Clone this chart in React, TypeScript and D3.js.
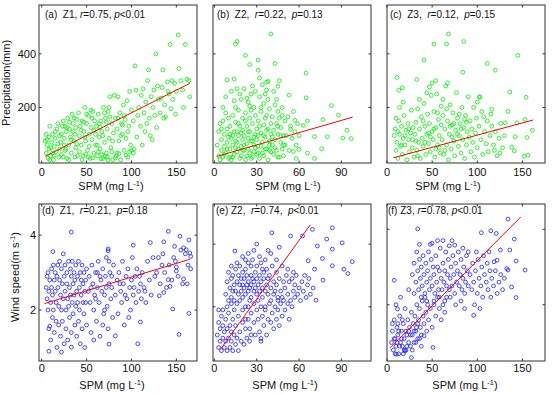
import React from 'react';
import * as d3 from 'd3';

// ---------- data (SPM mg/L, value) ----------
const ptsA: number[][] = [
[4,75],[5,30],[6,60],[7,10],[8,90],[8,45],[9,130],[10,20],[11,70],[12,100],[13,5],[14,55],[15,85],[16,35],[17,120],[18,65],[19,15],[20,95],[6,80],[10,50],[12,30],[15,110],[18,140],[20,45],[5,100],[9,5],
[21,70],[22,25],[23,130],[24,150],[25,85],[26,40],[27,110],[28,10],[29,160],[30,60],[31,120],[32,90],[33,30],[34,175],[35,140],[36,75],[37,100],[38,50],[39,155],[40,20],[22,100],[25,60],[28,125],[30,5],[33,80],[36,160],[38,125],[24,15],[27,45],[31,145],[35,110],[39,65],
[41,180],[42,95],[43,130],[44,60],[45,150],[46,20],[47,110],[48,200],[49,75],[50,140],[51,40],[52,170],[53,100],[54,10],[55,125],[56,80],[57,185],[58,30],[59,150],[60,60],[42,35],[45,5],[48,90],[50,175],[53,55],[56,160],[58,115],[44,115],[47,145],[52,15],[55,190],[60,100],
[61,130],[62,20],[63,175],[64,90],[65,45],[66,150],[67,110],[68,10],[69,200],[70,70],[71,160],[72,30],[73,120],[74,185],[75,85],[76,240],[77,50],[78,140],[79,5],[80,105],[62,60],[65,125],[68,95],[70,180],[73,15],[76,165],[78,35],[64,140],[67,25],[72,145],[75,200],[79,75],
[81,245],[82,160],[83,20],[84,120],[85,240],[86,75],[87,180],[88,5],[89,140],[90,100],[91,210],[92,40],[93,155],[94,85],[95,225],[96,15],[97,130],[98,260],[99,60],[100,190],[84,30],[88,95],[92,170],[96,110],[100,40],[85,160],[90,135],
[102,150],[104,355],[105,265],[106,90],[108,200],[110,130],[111,245],[112,60],[114,180],[115,110],[116,220],[118,300],[119,340],[120,160],[121,95],[122,240],[124,200],[125,265],[126,170],[127,400],[128,125],[130,230],[103,45],[107,170],[113,270],[117,140],[123,80],[129,280],
[132,180],[134,275],[135,340],[137,210],[138,165],[140,295],[142,250],[143,435],[145,300],[146,230],[148,290],[150,260],[152,470],[153,345],[155,300],[158,200],[160,435],[162,305],[164,300],[165,240],[136,160],[141,260],[144,195],[149,175],[157,265],[133,235],
[66,8],[71,18],[74,4],[82,12],[86,28],[94,22],[98,35],[102,30],[63,35],[57,12],[49,25],[37,15],[14,20],[26,130]
];

const ptsB: number[][] = [
[40,474],[16,446],[15,436],[22,394],[31,377],[25,360],[43,364],[31,339],[65,328],[9,303],[14,306],[38,297],[37,294],[45,279],[65,236],[53,246],[83,207],[88,171],[94,115],[91,86],[97,84],[71,91],[80,91],[76,46],[71,10],[66,30],[60,44],[56,36],[58,10],[77,155],[66,149],[63,133],[57,152],[54,119],
[2,60],[3,20],[3,110],[4,5],[5,80],[5,40],[6,150],[6,15],[7,100],[7,55],[8,30],[8,180],[9,70],[9,120],[10,10],[10,90],[4,140],[6,200],[8,240],[10,160],
[11,45],[11,130],[12,5],[12,85],[13,170],[13,60],[14,25],[14,110],[15,145],[15,200],[16,70],[16,35],[17,190],[17,95],[18,10],[18,130],[19,55],[19,230],[20,160],[20,80],[12,260],[14,225],[16,270],[18,250],[20,115],[11,100],[13,15],[15,50],[17,140],[19,20],
[21,95],[21,40],[22,180],[22,5],[23,130],[23,65],[24,220],[24,110],[25,30],[25,160],[26,75],[26,250],[27,140],[27,15],[28,200],[28,90],[29,50],[29,170],[30,120],[30,25],[21,270],[23,235],[25,205],[27,280],[29,260],[22,150],[24,45],[26,190],[28,60],[30,80],
[31,150],[31,55],[32,240],[32,10],[33,105],[33,185],[34,70],[34,30],[35,135],[35,215],[36,90],[36,160],[37,45],[37,265],[38,120],[38,5],[39,195],[39,75],[40,140],[40,35],[32,310],[34,285],[36,250],[38,230],[40,100],[33,200],[35,20],[37,170],[39,60],[31,95],
[41,165],[41,60],[42,25],[42,115],[43,210],[43,80],[44,140],[44,40],[45,185],[45,100],[46,15],[46,160],[47,70],[47,125],[48,45],[48,200],[49,95],[49,20],[50,150],[50,60],[42,260],[44,230],[46,300],[48,170],[45,130],
[51,95],[52,165],[53,40],[54,130],[55,85],[56,185],[57,110],[58,60],[59,140],[60,95],
[5,120],[7,25],[9,45],[11,15],[13,95],[15,75],[17,45],[19,105],[21,60],[23,20],[25,110],[27,75],[29,100],[31,30],[33,55],[35,95],[37,115],[39,40],[41,90],[43,50],[45,15],[47,95],[49,60],[20,40],[24,85],[28,35],[32,130],[36,45],[16,110],[26,10]
];

const ptsC: number[][] = [
[68,474],[52,436],[66,437],[85,446],[145,394],[41,377],[111,364],[120,339],[84,331],[11,312],[33,304],[54,300],[13,264],[17,273],[67,292],[50,291],[47,276],[154,238],[136,258],[102,238],[116,193],[134,185],[131,143],[144,143],[153,155],[161,115],[155,88],[152,18],[156,22],[138,52],[141,38],[142,91],
[8,95],[9,120],[10,40],[11,70],[12,10],[13,150],[14,100],[15,55],[16,130],[17,25],[18,85],[19,170],[20,60],[21,115],[22,5],[23,140],[24,80],[25,35],[26,105],[27,190],[28,50],[29,125],[30,15],[10,160],[14,200],[18,220],[12,110],[16,60],[20,95],[24,120],[28,80],
[31,100],[32,145],[33,40],[34,195],[35,70],[36,120],[37,10],[38,165],[39,85],[40,55],[41,215],[42,130],[43,25],[44,100],[45,175],[46,65],[47,140],[48,35],[49,245],[50,110],[51,80],[52,185],[53,15],[54,125],[55,250],[56,60],[57,155],[58,95],[59,30],[60,205],[32,75],[36,230],[40,150],[44,255],[48,90],[52,120],[56,180],[58,50],[34,20],[42,70],[46,105],[54,45],[60,135],
[61,80],[62,170],[63,25],[64,120],[65,280],[66,60],[67,150],[68,5],[69,100],[70,210],[71,45],[72,135],[73,180],[74,75],[75,20],[76,115],[77,255],[78,160],[79,55],[80,95],[81,140],[82,30],[83,200],[84,80],[85,125],[86,10],[87,170],[88,60],[89,110],[90,240],[62,230],[66,195],[70,130],[74,140],[78,100],[82,120],[86,155],[64,40],[72,90],[80,175],[88,145],
[91,90],[92,150],[93,35],[94,120],[95,70],[96,200],[97,15],[98,105],[99,160],[100,50],[102,130],[104,80],[105,185],[106,25],[108,110],[110,65],[111,150],[112,35],[114,95],[116,130],[118,60],[120,110],[122,20],[124,85],[126,140],[128,50],[130,95],[103,240],[107,165],[115,175],[119,40],[125,30],[100,220]
];

const ptsD: number[][] = [
[33,4.08],[141,4.1],[12.5,3.56],[102,3.73],[74,3.63],[74,3.58],[136,3.82],[154,3.97],[164,3.87],[158,3.66],[161,3.61],[165,3.52],[166,3.43],[166,3.1],[8,0.9],[22,0.88],[33,1.01],[75,1.09],[107,1.1],[153,1.35],[164,1.91],[146,2.03],[158,2.83],[9,1.57],[82,1.31],[110,1.68],[131,2.38],[136,2.47],[143,2.63],[141,2.81],[150,3.04],[150,3.15],
[5,2.6],[6,2.3],[6,2.9],[7,2.0],[7,3.0],[8,1.5],[8,2.5],[9,2.8],[10,2.2],[10,1.2],[11,3.1],[11,2.6],[12,1.8],[12,2.4],[13,3.2],[13,2.0],[14,1.4],[14,2.8],[15,2.5],[15,3.0],[16,1.7],[16,2.2],[17,2.9],[17,1.0],[18,3.2],[18,2.6],[19,2.1],[19,1.6],[20,3.3],[20,2.8],[21,2.4],[21,1.3],[22,3.1],[22,2.0],[23,2.7],[23,1.7],[24,3.5],[24,2.3],[25,2.9],[25,1.1],
[26,2.5],[26,3.2],[27,2.0],[27,1.5],[28,3.0],[28,2.7],[29,2.3],[29,1.2],[30,3.3],[30,2.1],[31,2.6],[31,1.8],[32,3.1],[32,2.4],[33,2.9],[33,1.4],[34,2.2],[34,3.3],[35,2.7],[35,1.9],[36,3.0],[36,2.4],[37,1.6],[37,2.8],[38,3.2],[38,2.1],[39,2.5],[39,1.3],[40,2.9],[40,2.2],[41,3.3],[41,1.7],[42,2.6],[42,2.0],[43,3.0],[43,1.1],[44,2.4],[44,2.8],[45,1.5],[45,3.2],[46,2.2],[46,2.7],[47,1.9],[47,3.0],[48,2.5],[48,1.0],[49,2.8],[49,2.2],[50,1.6],[50,3.1],
[52,2.5],[53,2.9],[54,2.2],[55,1.4],[56,3.2],[57,2.7],[58,2.0],[59,2.4],[60,3.0],[61,1.7],[62,2.6],[63,3.3],[64,2.2],[65,1.3],[66,2.8],[67,2.5],[68,3.1],[69,1.9],[70,2.4],[71,2.9],[72,3.4],[73,2.1],[74,1.5],[75,2.7],[76,3.0],[77,2.3],[78,2.6],[79,1.8],[80,3.2],[55,2.6],[60,2.3],[65,2.9],[70,2.0],[75,3.3],[58,1.2],[68,1.6],[78,2.9],[62,3.0],[72,2.6],
[82,2.4],[84,2.8],[85,1.9],[86,3.0],[88,2.5],[89,2.2],[90,3.3],[91,2.7],[92,1.6],[94,2.9],[95,2.3],[96,3.1],[98,2.6],[99,2.0],[100,2.8],[101,3.4],[102,2.4],[104,2.9],[105,2.2],[106,3.1],[108,2.5],[110,2.7],[111,2.3],[112,3.0],[114,2.6],[116,2.2],[118,3.3],[120,2.8],[122,2.4],[124,3.4],[87,2.7],[93,2.4],[97,1.8],[103,2.6],[109,2.9],[115,2.5],[121,3.8],
[126,2.9],[128,3.0],[130,3.4],[132,2.7],[134,3.2],[137,3.0],[139,2.6],[142,3.2],[145,2.8],[147,3.4],[149,3.3],[152,2.9],[155,3.6],[157,2.7],[160,3.5],[163,3.2],[135,3.5],[148,3.7],[162,2.7]
];

const ptsE: number[][] = [
[40.7,4.36],[54,4.26],[62.5,4.26],[69.5,4.47],[83.6,4.52],[79.6,4.16],[90.6,4.04],[83.6,3.84],[73,3.94],[97.7,3.44],[91.8,3.2],[94.6,3.06],[76.6,3.54],[66.5,3.47],[71,3.2],[83.6,3.31],[77,2.85],[72,2.21],[14.5,3.78],[33,0.99],
[2,1.1],[3,0.7],[3,1.5],[4,0.9],[4,1.3],[5,0.6],[5,1.7],[6,1.0],[6,1.4],[7,0.7],[7,1.2],[8,0.9],[8,1.6],[9,0.6],[9,1.3],[10,1.0],[10,1.8],[11,0.7],[11,1.4],[12,0.9],[12,1.2],[13,0.6],[13,1.6],[14,1.1],[15,0.8],[15,1.4],[16,1.0],[17,0.6],[17,1.7],[18,1.2],[19,0.9],[20,1.5],[21,0.8],[22,1.3],[23,1.0],[24,1.6],[25,0.9],[6,1.9],[9,2.0],[12,2.1],[3,1.9],[14,1.9],
[8,2.4],[9,2.8],[10,2.2],[10,3.1],[11,2.6],[12,2.9],[12,2.3],[13,3.0],[13,2.5],[14,2.7],[14,2.2],[15,3.2],[15,2.5],[16,2.8],[16,2.1],[17,3.0],[17,2.4],[18,2.7],[18,3.3],[18,2.2],[19,2.5],[19,2.9],[20,2.7],[20,3.1],[20,2.3],[21,2.6],[21,2.9],[22,2.4],[22,3.2],[22,2.0],[23,2.7],[23,3.0],[24,2.5],[24,2.8],[24,3.4],[25,2.2],[25,2.6],[26,3.0],[26,2.7],[26,2.3],[27,2.9],[27,3.5],[28,2.5],[28,2.8],[28,2.1],[29,3.1],[29,2.6],[30,2.9],[30,2.4],[30,3.3],[31,2.7],[31,2.2],[32,3.0],[32,2.5],[33,2.8],[33,3.4],[34,2.3],[34,2.6],[35,3.1],[35,2.9],[36,2.5],[36,2.0],[37,3.2],[37,2.7],[38,2.4],[38,2.9],[39,3.0],[40,2.6],[40,2.2],[41,3.3],[42,2.8],[43,2.5],[44,3.1],[45,2.3],[16,3.4],[20,3.6],[24,3.7],[28,3.8],[32,3.6],[36,3.5],[40,3.7],[26,3.3],[34,3.2],[12,3.3],[44,3.5],[46,3.9],[22,3.5],[30,4.0],[38,3.8],
[20,1.9],[22,1.6],[24,2.0],[25,1.3],[26,1.8],[28,1.5],[29,1.1],[30,1.9],[31,1.6],[32,1.2],[33,2.0],[34,1.7],[35,1.4],[36,1.9],[37,1.1],[38,1.6],[39,2.1],[40,1.5],[41,1.8],[42,1.3],[43,2.0],[44,1.6],[45,1.9],[46,1.4],[47,2.1],[48,1.7],[49,2.2],[50,1.9],[52,2.1],[53,1.6],[55,2.0],[57,2.3],[26,1.1],[33,0.9],
[42,2.4],[44,2.7],[45,2.2],[46,2.9],[47,2.5],[48,2.3],[49,2.8],[50,2.6],[51,3.0],[52,2.4],[53,2.8],[54,2.2],[55,2.9],[56,2.5],[57,2.7],[58,3.0],[59,2.4],[60,2.6],[61,2.2],[62,2.8],[63,2.5],[64,3.0],[65,2.3],[66,2.7],[67,2.9],[68,2.4],[70,2.6],[48,3.3],[52,3.2],[56,3.1]
];

const ptsF: number[][] = [
[34,4.01],[134,4.27],[104.5,3.91],[115,3.96],[121,3.89],[141,3.74],[125.6,3.45],[136,3.45],[143,3.16],[153,2.92],[138,2.47],[143,2.19],[118.6,3.14],[122,3.18],[132.6,2.96],[134,2.92],[96,1.72],[51,0.87],[41,1.18],[32.6,1.4],[8,2.65],[11.6,1.89],[20,0.78],[10.5,0.69],[50,3.63],[69,3.56],[75,3.58],
[5,1.0],[6,1.3],[7,0.8],[8,1.6],[9,1.1],[10,0.9],[11,1.4],[12,1.2],[13,0.7],[14,1.7],[15,1.0],[16,1.3],[17,0.9],[18,1.5],[19,1.1],[20,1.9],[21,0.8],[22,1.2],[23,1.6],[24,1.0],[25,1.4],[26,0.9],[27,1.8],[28,1.2],[29,1.5],[30,1.0],[31,1.7],[32,1.3],[33,2.0],[34,1.1],[35,1.6],[36,1.9],[37,1.4],[38,1.2],[39,2.1],[40,1.7],[41,1.5],[42,2.2],[43,1.8],[44,1.3],[45,2.0],[46,1.6],[48,1.9],[50,1.4],[52,2.1],[54,1.7],[56,2.2],[58,1.9],[60,1.6],[62,2.0],[64,1.8],[15,2.2],[24,2.4],[10,2.0],[30,2.3],[18,0.7],[27,0.6],
[6,1.5],[8,1.1],[9,0.7],[11,1.0],[12,1.5],[14,0.9],[16,1.1],[17,1.6],[19,0.8],[21,1.3],[22,0.9],[24,1.3],[26,1.2],[28,0.8],[30,1.3],[32,1.0],[34,1.5],[36,1.1],[38,0.9],[13,1.3],
[28,2.8],[30,3.1],[32,2.6],[33,3.4],[34,2.9],[35,2.4],[36,3.2],[37,2.7],[38,3.0],[39,2.5],[40,3.3],[41,2.8],[42,2.3],[43,3.1],[44,2.6],[45,2.9],[46,3.4],[47,2.4],[48,2.7],[49,3.2],[50,2.5],[51,3.0],[52,2.8],[53,2.3],[54,3.3],[55,2.6],[56,3.0],[57,2.4],[58,2.9],[59,3.5],[60,2.7],[61,2.4],[62,3.1],[63,2.6],[64,2.9],[65,3.4],[66,2.5],[67,2.8],[68,3.2],[69,2.4],[70,2.7],[71,3.0],[72,2.5],[73,3.3],[74,2.8],[75,2.3],[76,3.1],[77,2.6],[78,2.9],[79,3.4],[80,2.5],[81,2.8],[82,3.2],[83,2.4],[84,2.7],[85,3.0],[86,2.3],[87,2.6],[88,3.3],[89,2.9],[90,2.5],[38,2.2],[44,2.1],[52,2.0],[58,2.2],[64,2.1],[70,2.2],[76,2.0],[82,2.1],[48,3.6],[56,3.7],[62,3.7],[72,3.7],[84,3.5],[90,3.4],[36,3.6],[66,2.2],[86,1.9],
[92,2.8],[94,2.4],[95,3.1],[96,2.6],[98,2.9],[100,2.3],[101,3.2],[102,2.7],[104,2.5],[105,3.0],[106,2.2],[108,2.8],[110,2.6],[111,3.1],[112,2.4],[114,2.9],[115,2.2],[116,2.7],[118,2.5],[120,2.9],[122,2.3],[124,2.6],[126,2.8],[128,2.4],[130,2.7],[99,3.4],[107,3.3],[113,3.4],[97,2.0],[103,1.9]
];

// regression: [intercept, slope], x-range
const fitCoef: number[][] = [[11, 1.69], [15, 1.52], [6, 0.91], [2.15, 0.0073], [0.38, 0.0623], [0.77, 0.024]];
const fitRange: number[][] = [[4, 165], [2, 98], [7, 162], [3, 165], [4.7, 68], [3.5, 148]];

const panelTags = ['(a)', '(b)', '(c)', '(d)', '(e)', '(f)'];
const zones = ['Z1', 'Z2', 'Z3', 'Z1', 'Z2', 'Z3'];
const rVals = ['0.75', '0.22', '0.12', '0.21', '0.74', '0.78'];
const pVals = ['<0.01', '=0.13', '=0.15', '=0.18', '<0.01', '<0.01'];

const xTicksCol: number[][] = [[0, 50, 100, 150], [0, 30, 60, 90], [0, 50, 100, 150]];
const yTicksTop = [200, 400];
const yTicksBottom = [2, 4];

// ---------- layout ----------
const cols = [{ x0: 39, x1: 197 }, { x0: 213, x1: 371 }, { x0: 387, x1: 545 }];
const rows = [{ y0: 5, y1: 163 }, { y0: 204, y1: 361 }];
const xDomains = [[-3, 173], [-1, 111], [0, 175]];
const yDomains = [[-7, 582], [-7, 582], [-7, 582], [0.64, 4.83], [0.27, 5.28], [0.51, 4.67]];
const titleX = [45, 217, 390, 42, 216, 388];
const titleSp = [
  ['  ', ', ', ', '], ['  ', ',  ', ',  '], ['  ', ',  ', ',  '],
  ['  ', ',  ', ',  '], [' ', ',  ', ',  '], [' ', ', ', ', '],
];
const xLabelCx = [[111, 288, 448], [112, 285, 465]];
const allPts = [ptsA, ptsB, ptsC, ptsD, ptsE, ptsF];

const FONT = 'Liberation Sans, Arial, Helvetica, sans-serif';
const TICK = 2.5;

function Panel({ i }: { i: number }) {
  const c = i % 3;
  const r = Math.floor(i / 3);
  const { x0, x1 } = cols[c];
  const { y0, y1 } = rows[r];
  const xs = d3.scaleLinear().domain(xDomains[c]).range([x0, x1]);
  const ys = d3.scaleLinear().domain(yDomains[i]).range([y1, y0]);
  const color = r === 0 ? '#00f000' : '#1a1aff';
  const [a, b] = fitCoef[i];
  const line = d3.line<number>().x((x) => xs(x)).y((x) => ys(a + b * x));
  const yt = r === 0 ? yTicksTop : yTicksBottom;
  const sp = titleSp[i];
  const tickBase = r === 0 ? 176 : 371.5;
  const labelBase = r === 0 ? 190 : 389;
  return (
    <g>
      <defs>
        <clipPath id={`clip${i}`}>
          <rect x={x0} y={y0} width={x1 - x0} height={y1 - y0} />
        </clipPath>
      </defs>
      <g clipPath={`url(#clip${i})`}>
        {allPts[i].map((p, k) => (
          <circle key={k} cx={xs(p[0])} cy={ys(p[1])} r={1.9} fill="none" stroke={color} strokeWidth={0.8} />
        ))}
      </g>
      <path d={line(fitRange[i]) || ''} stroke="#ff0000" strokeWidth={1} fill="none" />
      <rect x={x0} y={y0} width={x1 - x0} height={y1 - y0} fill="none" stroke="#333" strokeWidth={1} />
      {xTicksCol[c].map((t) => (
        <g key={'x' + t}>
          <line x1={xs(t)} x2={xs(t)} y1={y1} y2={y1 - TICK} stroke="#333" />
          <line x1={xs(t)} x2={xs(t)} y1={y0} y2={y0 + TICK} stroke="#333" />
          <text x={xs(t)} y={tickBase} fontSize={11} fontFamily={FONT} textAnchor="middle" fill="#111">{t}</text>
        </g>
      ))}
      {yt.map((t) => (
        <g key={'y' + t}>
          <line x1={x0} x2={x0 + TICK} y1={ys(t)} y2={ys(t)} stroke="#333" />
          <line x1={x1} x2={x1 - TICK} y1={ys(t)} y2={ys(t)} stroke="#333" />
          {c === 0 && (
            <text x={36} y={ys(t)} dy="0.35em" fontSize={11} fontFamily={FONT} textAnchor="end" fill="#111">{t}</text>
          )}
        </g>
      ))}
      <text x={titleX[i]} y={r === 0 ? 18 : 213.5} fontSize={10} fontFamily={FONT} fill="#111" style={{ whiteSpace: 'pre' }}>
        {panelTags[i] + sp[0] + zones[i] + sp[1]}
        <tspan fontStyle="italic">r</tspan>
        {'=' + rVals[i] + sp[2]}
        <tspan fontStyle="italic">p</tspan>
        {pVals[i]}
      </text>
      <text x={xLabelCx[r][c]} y={labelBase} fontSize={11} fontFamily={FONT} textAnchor="middle" fill="#111">
        SPM (mg L<tspan dy={-4} fontSize={7.5}>-1</tspan><tspan dy={4}>)</tspan>
      </text>
    </g>
  );
}

export default function App() {
  return (
    <svg width={552} height={394} style={{ position: 'absolute', left: 0, top: 0, background: '#fff' }}>
      <rect width={552} height={394} fill="#fff" />
      {[0, 1, 2, 3, 4, 5].map((i) => (
        <Panel key={i} i={i} />
      ))}
      <text transform="translate(10,83) rotate(-90)" fontSize={11} fontFamily={FONT} textAnchor="middle" fill="#111">
        Precipitation(mm)
      </text>
      <text transform="translate(19,277) rotate(-90)" fontSize={11} fontFamily={FONT} textAnchor="middle" fill="#111">
        Wind speed(m s<tspan dy={-4} fontSize={7.5}>-1</tspan><tspan dy={4}>)</tspan>
      </text>
    </svg>
  );
}
